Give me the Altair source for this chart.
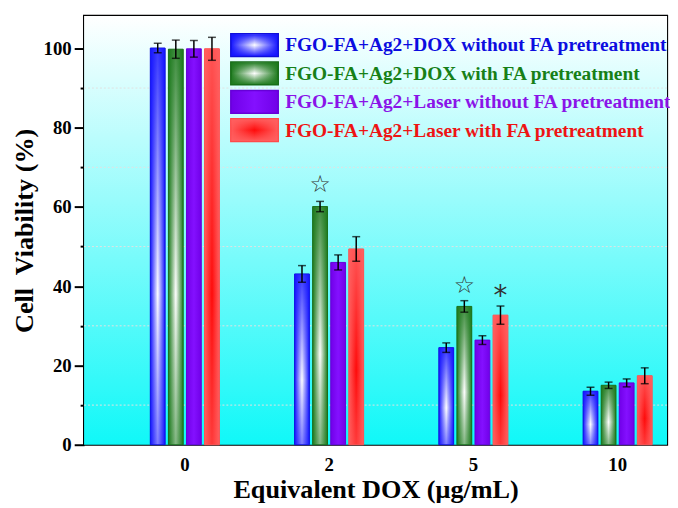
import altair as alt
import pandas as pd

doses = ["0", "2", "5", "10"]
series = [
    "FGO-FA+Ag2+DOX without FA pretreatment",
    "FGO-FA+Ag2+DOX with FA pretreatment",
    "FGO-FA+Ag2+Laser without FA pretreatment",
    "FGO-FA+Ag2+Laser with FA pretreatment",
]
mean_dox_wo = [100.1, 43.1, 24.5, 13.5]
mean_dox_w = [99.8, 60.1, 34.9, 15.0]
mean_laser_wo = [99.9, 46.0, 26.4, 15.6]
mean_laser_w = [99.9, 49.4, 32.7, 17.4]
err_dox_wo = [1.2, 2.1, 1.2, 1.0]
err_dox_w = [2.3, 1.3, 1.45, 0.8]
err_laser_wo = [2.1, 1.9, 1.1, 1.0]
err_laser_w = [2.9, 3.1, 2.3, 2.0]

sig_doses = ["2", "5", "5"]
sig_series = [series[1], series[1], series[3]]
sig_symbols = ["\u2606", "\u2606", "*"]
sig_y = [65.6, 40.1, 37.2]

grid_values = [10, 30, 50, 70, 90]

# styling per series: (edge colour, centre colour, stroke, text colour, overlay rgb)
styles = [
    ("#1414ff", "#ffffff", "#0f0fd8", "#0c0ce0", "20,20,255"),
    ("#1d7a1d", "#ffffff", "#176a17", "#178017", "29,122,29"),
    ("#7000e8", "#8410ff", "#6600d8", "#8a14e8", None),
    ("#ff5c5c", "#ff0a0a", "#ff4a4a", "#ee1414", "255,96,96"),
]

means = [mean_dox_wo, mean_dox_w, mean_laser_wo, mean_laser_w]
errs = [err_dox_wo, err_dox_w, err_laser_wo, err_laser_w]
rows = []
for s, m, e in zip(series, means, errs):
    for d, mv, ev in zip(doses, m, e):
        rows.append({"dose": d, "series": s, "mean": mv, "lo": mv - ev, "hi": mv + ev})
df = pd.DataFrame(rows)
sig_df = pd.DataFrame({"dose": sig_doses, "series": sig_series, "sym": sig_symbols, "y": sig_y})
grid_df = pd.DataFrame({"g": grid_values})

W, H = 590, 434
FONT = "Liberation Serif"

xscale = alt.Scale(domain=doses, paddingInner=0.5, paddingOuter=0.2705, align=0.829)
xoscale = alt.Scale(domain=series, paddingInner=0.18, paddingOuter=0.085)
yscale = alt.Scale(domain=[0, 108.2], nice=False, zero=True)

xaxis = alt.Axis(title="Equivalent DOX (\u03bcg/mL)", ticks=False, domain=False, labelAngle=0,
                 labelFont=FONT, labelFontWeight="bold", labelFontSize=19, labelColor="black",
                 labelPadding=11, titleFont=FONT, titleFontWeight="bold", titleFontSize=26.5,
                 titleColor="black", titlePadding=2, grid=False)
yaxis = alt.Axis(title="Cell\u00a0 Viability (%)", values=list(range(0, 101, 10)),
                 labelExpr="datum.value % 20 == 0 ? datum.label : ''",
                 tickSize={"condition": {"test": "datum.value % 20 == 0", "value": 10}, "value": 4},
                 tickWidth=2, tickColor="black", domain=False, grid=False,
                 labelFont=FONT, labelFontWeight="bold", labelFontSize=19, labelColor="black",
                 labelPadding=3, titleFont=FONT, titleFontWeight="bold", titleFontSize=26.5,
                 titleColor="black", titlePadding=5)

X = alt.X("dose:N", sort=doses, scale=xscale, axis=xaxis)
XO = alt.XOffset("series:N", scale=xoscale, sort=series)


def hgrad(edge, centre):
    return {"gradient": "linear", "x1": 0, "y1": 0, "x2": 1, "y2": 0,
            "stops": [{"offset": 0, "color": edge}, {"offset": 0.5, "color": centre},
                      {"offset": 1, "color": edge}]}


def vgrad(rgb, a_top, a_bot, mid=0.62):
    return {"gradient": "linear", "x1": 0, "y1": 0, "x2": 0, "y2": 1,
            "stops": [{"offset": 0, "color": f"rgba({rgb},{a_top})"},
                      {"offset": mid, "color": f"rgba({rgb},0)"},
                      {"offset": 1, "color": f"rgba({rgb},{a_bot})"}]}


one = pd.DataFrame({"k": [0]})
background = alt.Chart(one).mark_rect(
    fill={"gradient": "linear", "x1": 0, "y1": 0, "x2": 0, "y2": 1,
          "stops": [{"offset": 0, "color": "#ffffff"}, {"offset": 1, "color": "#10f8f8"}]}
).encode(x=alt.value(0), x2=alt.value(W), y=alt.value(0), y2=alt.value(H))

grid = alt.Chart(grid_df).mark_rule(color="#e2e2e2", strokeDash=[2, 2], strokeWidth=1).encode(
    y=alt.Y("g:Q", scale=yscale, axis=yaxis), x=alt.value(0), x2=alt.value(W))

layers = [background, grid]
for i, s in enumerate(series):
    edge, centre, stroke, _, orgb = styles[i]
    base = alt.Chart(df).transform_filter(alt.datum.series == s)
    layers.append(base.mark_bar(fill=hgrad(edge, centre), stroke=stroke, strokeWidth=1).encode(
        x=X, xOffset=XO, y=alt.Y("mean:Q", scale=yscale, axis=yaxis)))
    if orgb:
        layers.append(base.mark_bar(fill=vgrad(orgb, 0.85, 0.55)).encode(
            x=X, xOffset=XO, y=alt.Y("mean:Q", scale=yscale, axis=yaxis)))

errs_rule = alt.Chart(df).mark_rule(color="black", strokeWidth=1.5).encode(
    x=X, xOffset=XO, y=alt.Y("lo:Q", scale=yscale, axis=yaxis), y2="hi:Q")
cap_lo = alt.Chart(df).mark_tick(color="black", orient="horizontal", size=8, thickness=1.5).encode(
    x=X, xOffset=XO, y=alt.Y("lo:Q", scale=yscale, axis=yaxis))
cap_hi = alt.Chart(df).mark_tick(color="black", orient="horizontal", size=8, thickness=1.5).encode(
    x=X, xOffset=XO, y=alt.Y("hi:Q", scale=yscale, axis=yaxis))
sig = alt.Chart(sig_df).mark_text(font="DejaVu Sans", color="#333333", baseline="middle").encode(
    x=X, xOffset=XO, y=alt.Y("y:Q", scale=yscale, axis=yaxis), text="sym:N",
    size=alt.condition(alt.datum.sym == "*", alt.value(28), alt.value(24)))
layers += [errs_rule, cap_lo, cap_hi, sig]

# legend drawn by hand (gradient swatches)
for i, s in enumerate(series):
    edge, centre, stroke, tcol, orgb = styles[i]
    top = 18 + i * 28.7
    ld = pd.DataFrame({"series": [s]})
    layers.append(alt.Chart(ld).mark_rect(fill=hgrad(edge, centre), stroke=stroke, strokeWidth=1.5).encode(
        x=alt.value(148.5), x2=alt.value(196.5), y=alt.value(top), y2=alt.value(top + 23)))
    if orgb:
        layers.append(alt.Chart(ld).mark_rect(fill=vgrad(orgb, 0.95, 0.95, 0.5)).encode(
            x=alt.value(149), x2=alt.value(196), y=alt.value(top + 0.5), y2=alt.value(top + 22.5)))
    layers.append(alt.Chart(ld).mark_text(align="left", baseline="middle", font=FONT,
                                          fontWeight="bold", fontSize=19.6, color=tcol).encode(
        x=alt.value(203.5), y=alt.value(top + 12), text="series:N"))

chart = alt.layer(*layers).properties(
    width=W, height=H,
    autosize=alt.AutoSizeParams(type="none"),
    padding={"left": 77, "top": 5, "right": 3, "bottom": 60},
).configure_view(stroke="black", strokeWidth=2.2)

chart.save("out.html", embed_options={"renderer": "svg", "actions": False})
